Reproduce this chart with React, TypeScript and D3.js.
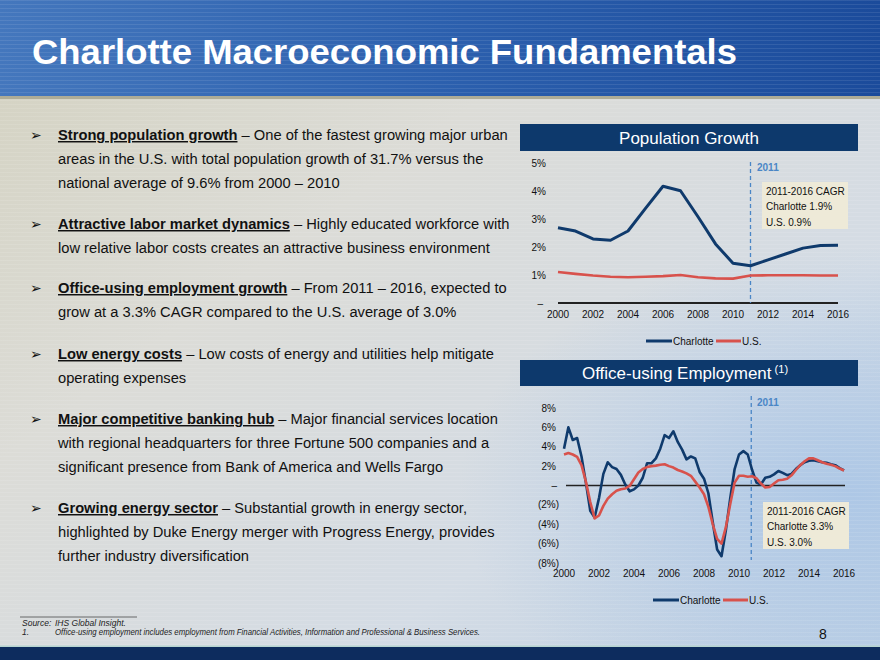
import React from "react";
import * as d3 from "d3";

// ---------- DATA ----------
const popYears = [2000, 2001, 2002, 2003, 2004, 2005, 2006, 2007, 2008, 2009, 2010, 2011, 2012, 2013, 2014, 2015, 2016];
const popCharlotte = [2.69, 2.57, 2.29, 2.24, 2.57, 3.38, 4.17, 4.01, 3.08, 2.11, 1.42, 1.33, 1.54, 1.75, 1.96, 2.05, 2.06];
const popUS = [1.11, 1.04, 0.98, 0.94, 0.92, 0.94, 0.96, 1.0, 0.92, 0.88, 0.87, 0.98, 0.99, 0.99, 0.99, 0.98, 0.98];
const popTicks = [0, 1, 2, 3, 4, 5];

const yearTicks = [2000, 2002, 2004, 2006, 2008, 2010, 2012, 2014, 2016];

// quarterly observations, 2000 Q1 .. 2016 Q1
const empStartYear = 2000;
const empCharlotte = [
  3.8, 6.0, 4.7, 4.9, 3.0, 0.3, -2.6, -3.3, -1.3, 1.2,
  2.4, 1.9, 1.7, 1.1, 0.1, -0.6, -0.4, 0.0, 0.8, 2.3,
  2.3, 2.8, 3.8, 5.2, 4.9, 5.6, 4.5, 3.7, 2.7, 3.0,
  2.8, 1.4, 0.7, -0.8, -3.8, -6.6, -7.3, -4.6, -1.3, 1.7,
  3.2, 3.55, 3.2, 1.6, 0.3, 0.1, 0.8, 0.9, 1.15, 1.5,
  1.3, 1.07, 1.2, 1.7, 2.1, 2.4, 2.55, 2.6, 2.5, 2.4,
  2.35, 2.2, 2.1, 1.8, 1.55,
];
const empUS = [
  3.2, 3.35, 3.2, 2.95, 2.1, 0.4, -1.7, -3.4, -3.1, -2.1,
  -1.35, -0.9, -0.55, -0.38, -0.3, -0.05, 0.65, 1.35, 1.7, 1.9,
  2.0, 2.05, 2.15, 2.2, 2.0, 1.85, 1.6, 1.45, 1.25, 1.0,
  0.4, -0.2, -0.9, -2.2, -4.0, -5.5, -6.0, -4.3, -1.9, 0.3,
  1.0, 1.0, 0.9, 0.95, 0.75, 0.2, -0.2, -0.15, 0.2, 0.55,
  0.6, 0.7, 1.05, 1.6, 2.1, 2.5, 2.8, 2.8, 2.6, 2.4,
  2.25, 2.15, 2.0, 1.75, 1.55,
];
const empQuarters = empCharlotte.map((_, i) => empStartYear + i / 4);
const empTicks = [-8, -6, -4, -2, 0, 2, 4, 6, 8];

const seriesNames = ["Charlotte", "U.S."];
const popCagr = ["2011-2016 CAGR", "Charlotte 1.9%", "U.S. 0.9%"];
const empCagr = ["2011-2016 CAGR", "Charlotte 3.3%", "U.S. 3.0%"];
const markerYear = "2011";

const bullets = [
  { head: "Strong population growth", lines: [" \u2013 One of the fastest growing major urban", "areas in the U.S. with total population growth of 31.7% versus the", "national average of 9.6% from 2000 \u2013 2010"] },
  { head: "Attractive labor market dynamics", lines: [" \u2013 Highly educated workforce with", "low relative labor costs creates an attractive business environment"] },
  { head: "Office-using employment growth", lines: [" \u2013 From 2011 \u2013 2016, expected to", "grow at a 3.3% CAGR compared to the U.S. average of 3.0%"] },
  { head: "Low energy costs", lines: [" \u2013 Low costs of energy and utilities help mitigate", "operating expenses"] },
  { head: "Major competitive banking hub", lines: [" \u2013 Major financial services location", "with regional headquarters for three Fortune 500 companies and a", "significant presence from Bank of America and Wells Fargo"] },
  { head: "Growing energy sector", lines: [" \u2013 Substantial growth in energy sector,", "highlighted by Duke Energy merger with Progress Energy, provides", "further industry diversification"] },
];
const bulletTops = [140, 229, 293, 359, 424, 513];

const NAVY = "#0f3a6c";
const RED = "#d8524c";
const DASH = "#4a86c6";
const FONT = "'Liberation Sans', Arial, sans-serif";

function CagrBox({ x, y, lines }: { x: number; y: number; lines: string[] }) {
  return (
    <g>
      <rect x={x} y={y} width={86} height={47} fill="#eeead8" />
      {lines.map((t, i) => (
        <text key={i} x={x + 4} y={y + 13 + i * 15.3} fontSize={10} fill="#111">{t}</text>
      ))}
    </g>
  );
}

function Legend({ x, y }: { x: number; y: number }) {
  return (
    <g fontSize={10} fill="#111">
      <line x1={x} x2={x + 26} y1={y} y2={y} stroke={NAVY} strokeWidth={3} />
      <text x={x + 27} y={y + 3.5}>{seriesNames[0]}</text>
      <line x1={x + 70} x2={x + 95} y1={y} y2={y} stroke={RED} strokeWidth={3} />
      <text x={x + 96} y={y + 3.5}>{seriesNames[1]}</text>
    </g>
  );
}

export default function App() {
  // population chart
  const xPop = d3.scaleLinear().domain([2000, 2016]).range([558, 838]);
  const yPop = d3.scaleLinear().domain([0, 5]).range([303, 163]);
  const popLine = d3.line<number>().x((_, i) => xPop(popYears[i])).y((d) => yPop(d));

  // employment chart
  const xEmp = d3.scaleLinear().domain([2000, 2016]).range([564, 844]);
  const yEmp = d3.scaleLinear().domain([-8, 8]).range([563, 408]);
  const empLine = d3.line<number>().x((_, i) => xEmp(empQuarters[i])).y((d) => yEmp(d));

  const xMarkPop = xPop(2011);
  const xMarkEmp = xEmp(2010.7);

  return (
    <svg width={880} height={660} style={{ position: "absolute", left: 0, top: 0, display: "block" }} fontFamily={FONT}>
      <defs>
        <linearGradient id="bodyBg" x1="0" y1="0" x2="1" y2="1">
          <stop offset="0" stopColor="#d3d1bf" />
          <stop offset="0.35" stopColor="#dcdcd7" />
          <stop offset="0.7" stopColor="#d4dce5" />
          <stop offset="1" stopColor="#bccfe4" />
        </linearGradient>
        <radialGradient id="blueGlow" cx="0.97" cy="0.72" r="0.45">
          <stop offset="0" stopColor="#a9c5e6" stopOpacity="0.85" />
          <stop offset="1" stopColor="#a9c5e6" stopOpacity="0" />
        </radialGradient>
        <linearGradient id="banner" x1="0" y1="0" x2="1" y2="0">
          <stop offset="0" stopColor="#4477bd" />
          <stop offset="0.5" stopColor="#2c60ae" />
          <stop offset="1" stopColor="#1b4b9b" />
        </linearGradient>
        <pattern id="stripes" width="4" height="4" patternUnits="userSpaceOnUse">
          <rect x="0" y="0" width="4" height="1" fill="#ffffff" opacity="0.09" />
        </pattern>
      </defs>

      {/* background */}
      <rect x={0} y={0} width={880} height={660} fill="url(#bodyBg)" />
      <rect x={0} y={99} width={880} height={548} fill="url(#blueGlow)" />
      <rect x={0} y={99} width={880} height={548} fill="url(#stripes)" />

      {/* banner */}
      <rect x={0} y={0} width={880} height={96} fill="url(#banner)" />
      <rect x={0} y={0} width={880} height={96} fill="url(#stripes)" />
      <rect x={0} y={96} width={880} height={3} fill="#aeac97" />
      <text x={32} y={64} fontSize={35.5} fontWeight="bold" fill="#ffffff" textLength={705} lengthAdjust="spacingAndGlyphs">
        Charlotte Macroeconomic Fundamentals
      </text>

      {/* bullets */}
      {bullets.map((b, bi) => (
        <g key={bi} fontSize={14.7} fill="#111">
          <text x={30} y={bulletTops[bi]} fontSize={14} fontFamily="'DejaVu Sans', sans-serif">{"\u27A2"}</text>
          {b.lines.map((ln, li) => (
            <text key={li} x={58} y={bulletTops[bi] + li * 24}>
              {li === 0 && (
                <tspan fontWeight="bold" textDecoration="underline">{b.head}</tspan>
              )}
              {ln}
            </text>
          ))}
        </g>
      ))}

      {/* ---------- Population Growth ---------- */}
      <rect x={520} y={124} width={338} height={27} fill="#0d396c" />
      <text x={689} y={144} textAnchor="middle" fontSize={17} fill="#fff">Population Growth</text>

      {popTicks.map((t) => (
        <text key={t} x={t === 0 ? 543 : 546} y={yPop(t) + 3.5} textAnchor="end" fontSize={10} fill="#111">
          {t === 0 ? "\u2013" : `${t}%`}
        </text>
      ))}
      {yearTicks.map((t) => (
        <text key={t} x={xPop(t)} y={yPop(0) + 14.5} textAnchor="middle" fontSize={10} fill="#111">{t}</text>
      ))}
      <line x1={xPop(2000)} x2={xPop(2016)} y1={yPop(0)} y2={yPop(0)} stroke="#222" strokeWidth={2} />
      <line x1={xMarkPop} x2={xMarkPop} y1={162} y2={yPop(0)} stroke={DASH} strokeWidth={1.3} strokeDasharray="4,3" />
      <text x={757} y={171} fontSize={10} fontWeight="bold" fill={DASH}>{markerYear}</text>
      <CagrBox x={762} y={182} lines={popCagr} />
      <path d={popLine(popUS) || ""} fill="none" stroke={RED} strokeWidth={2.6} strokeLinejoin="round" />
      <path d={popLine(popCharlotte) || ""} fill="none" stroke={NAVY} strokeWidth={3} strokeLinejoin="round" />
      <Legend x={646} y={341} />

      {/* ---------- Office-using Employment ---------- */}
      <rect x={520} y={360} width={338} height={26} fill="#0d396c" />
      <text x={685} y={379} textAnchor="middle" fontSize={17} fill="#fff">
        Office-using Employment
        <tspan fontSize={11} dy={-6}>{" (1)"}</tspan>
      </text>

      {empTicks.map((t) => (
        <text key={t} x={t < 0 ? 559 : t === 0 ? 557 : 556} y={yEmp(t) + 3.5} textAnchor="end" fontSize={10} fill="#111">
          {t < 0 ? `(${-t}%)` : t === 0 ? "\u2013" : `${t}%`}
        </text>
      ))}
      {yearTicks.map((t) => (
        <text key={t} x={xEmp(t)} y={576.5} textAnchor="middle" fontSize={10} fill="#111">{t}</text>
      ))}
      <line x1={566} x2={845} y1={yEmp(0)} y2={yEmp(0)} stroke="#222" strokeWidth={1.5} />
      <line x1={xMarkEmp} x2={xMarkEmp} y1={396} y2={560} stroke={DASH} strokeWidth={1.3} strokeDasharray="4,3" />
      <text x={757} y={406} fontSize={10} fontWeight="bold" fill={DASH}>{markerYear}</text>
      <CagrBox x={763} y={502} lines={empCagr} />
      <path d={empLine(empCharlotte) || ""} fill="none" stroke={NAVY} strokeWidth={2.6} strokeLinejoin="round" />
      <path d={empLine(empUS) || ""} fill="none" stroke={RED} strokeWidth={2.6} strokeLinejoin="round" />
      <Legend x={653} y={600} />

      {/* footnotes */}
      <line x1={20} x2={137} y1={617} y2={617} stroke="#333" strokeWidth={0.7} />
      <g fontSize={8.5} fontStyle="italic" fill="#222">
        <text x={22} y={626}>Source:</text>
        <text x={55} y={626}>IHS Global Insight.</text>
        <text x={22} y={634.5}>1.</text>
        <text x={55} y={634.5} textLength={425} lengthAdjust="spacingAndGlyphs">
          Office-using employment includes employment from Financial Activities, Information and Professional &amp; Business Services.
        </text>
      </g>
      <text x={823} y={639} textAnchor="middle" fontSize={14} fill="#111">8</text>

      {/* footer band */}
      <rect x={0} y={645.5} width={880} height={1.5} fill="#b7d5d1" />
      <rect x={0} y={647} width={880} height={13} fill="#0d2c5e" />
    </svg>
  );
}
